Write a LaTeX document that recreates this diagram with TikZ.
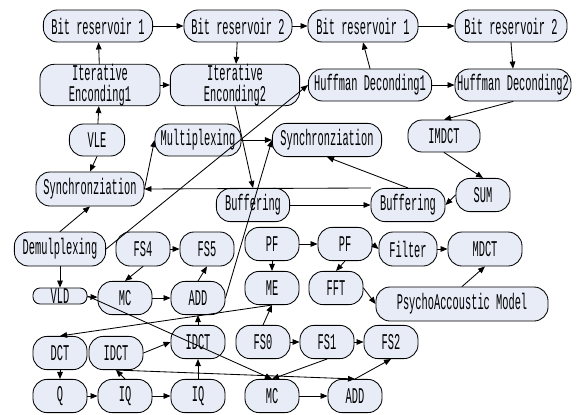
\documentclass[tikz,border=0pt]{standalone}
\usepackage{fontspec}
\setmainfont[FakeStretch=0.46]{Liberation Mono}
\usetikzlibrary{arrows.meta}
\definecolor{boxfill}{RGB}{231,236,247}
\tikzset{
  blk/.style={draw, fill=boxfill, rounded corners=10pt, inner sep=0pt,
    minimum width=1.35cm, minimum height=0.83cm, align=center,
    font=\fontsize{16}{14.5}\selectfont},
}

\begin{document}
\begin{tikzpicture}[x=0.025cm, y=-0.025cm, line cap=round, line join=round, line width=0.6pt, >={Triangle[length=5pt,width=4pt]}]

\useasboundingbox (0,0) rectangle (583,414);

% encoder / decoder top rows
\node[blk, minimum width=2.73cm, minimum height=0.8cm] (br1) at (98,26) {Bit reservoir 1};
\node[blk, minimum width=2.7cm, minimum height=0.8cm] (br2) at (238,26) {Bit reservoir 2};
\node[blk, minimum width=2.75cm, minimum height=0.8cm] (br3) at (363,26) {Bit reservoir 1};
\node[blk, minimum width=2.8cm, minimum height=0.8cm] (br4) at (511,26) {Bit reservoir 2};

\node[blk, minimum width=3.0cm] (ie1) at (100,85) {Iterative\\Enconding1};
\node[blk, minimum width=3.23cm] (ie2) at (235,85) {Iterative\\Enconding2};
\node[blk, minimum width=3.08cm, minimum height=0.8cm] (hd1) at (370,85) {Huffman Deconding1};
\node[blk, minimum width=2.9cm, minimum height=0.8cm] (hd2) at (513,85) {Huffman Deconding2};

\node[blk, minimum width=1.38cm, minimum height=0.8cm] (vle) at (97,140) {VLE};
\node[blk, minimum width=2.15cm, minimum height=0.8cm] (mux) at (198,140) {Multiplexing};
\node[blk, minimum width=2.73cm] (sync2) at (327,140) {Synchronziation};
\node[blk, minimum width=1.8cm, minimum height=0.8cm] (imdct) at (444,136) {IMDCT};

\node[blk, minimum width=2.7cm, minimum height=0.85cm] (sync1) at (90,189) {Synchronziation};
\node[blk, minimum width=1.83cm] (buf1) at (253,205) {Buffering};
\node[blk, minimum width=1.85cm] (buf2) at (408,205) {Buffering};
\node[blk] (sum) at (483,195) {SUM};

%---------------------------------------------------------------------------------------------------
% video part and psychoacoustic part
\node[blk, minimum width=2.28cm, minimum height=0.85cm] (demux) at (60,249) {Demulplexing};
\node[blk, minimum height=0.85cm] (fs4) at (143,249) {FS4};
\node[blk, minimum height=0.85cm] (fs5) at (207,249) {FS5};
\node[blk] (pf1) at (272,244) {PF};
\node[blk] (pf2) at (345,244) {PF};
\node[blk, minimum width=1.45cm, minimum height=0.85cm] (filt) at (408,249) {Filter};
\node[blk, minimum width=1.85cm, minimum height=0.85cm] (mdct) at (485,249) {MDCT};

\node[blk, minimum height=0.4cm, rounded corners=5pt] (vld) at (60,296) {VLD};
\node[blk] (mc1) at (125,298) {MC};
\node[blk] (add1) at (198,298) {ADD};
\node[blk] (me) at (272,288) {ME};
\node[blk] (fft) at (336,288) {FFT};
\node[blk, minimum width=4.3cm, minimum height=0.85cm] (psy) at (462,304) {PsychoAccoustic Model};

\node[blk] (dct) at (60,353) {DCT};
\node[blk] (idct1) at (116,353) {IDCT};
\node[blk] (idct2) at (198,342) {IDCT};
\node[blk] (fs0) at (263,342) {FS0};
\node[blk] (fs1) at (327,342) {FS1};
\node[blk] (fs2) at (391,342) {FS2};

\node[blk] (q) at (60,396) {Q};
\node[blk] (iq1) at (125,396) {IQ};
\node[blk] (iq2) at (198,396) {IQ};
\node[blk] (mc2) at (272,396) {MC};
\node[blk] (add2) at (355,396) {ADD};

%---------------------------------------------------------------------------------------------------
\draw[->] (br1) -- (br2);
\draw[->] (br2) -- (br3);
\draw[->] (br3) -- (br4);
\draw[->] (ie1) -- (br1);
\draw[->] (br2) -- (ie2);
\draw[->] (ie1) -- (ie2);
\draw[->] (hd1.north) -- (br3.south);
\draw[->] (br4.south) -- (hd2.north);
\draw[->] (hd1) -- (hd2);
\draw[->] (hd2.south) -- (imdct.north);

\draw[->] (vle) -- (ie1);
\draw[->] (vle.south) -- (sync1.north);
\draw[->] (demux.north) -- (sync1.south);
\draw[->] (sync1.east) -- (mux.west);
\draw[->] (mux) -- (sync2);
\draw[->] (ie2.south) -- (buf1.north);
\draw[->] (demux.east) -- (hd1.west);
\draw[->] (add1.east) -- (sync2.west);
\draw[->] (buf1) -- (buf2);
\draw[->] (imdct.south) -- (sum.north);
\draw[->] (sum.west) -- (buf2.east);
\draw[->] (buf2.north west) -- (sync1.east);
\draw[->] (buf2.north) -- (sync2.south);

\draw[->] (fs4) -- (fs5);
\draw[->] (fs4.south) -- (mc1.north);
\draw[->] (demux) -- (vld);
\draw[->] (vld) -- (mc1);
\draw[->] (mc1) -- (add1);
\draw[->] (add1.north) -- (fs5.south);
\draw[->] (pf1) -- (pf2);
\draw[->] (pf1) -- (me);
\draw[->] (pf2.south) -- (fft.north);
\draw[->] (pf2.east) -- (filt.west);
\draw[->] (filt) -- (mdct);
\draw[->] (fft.east) -- (psy.west);
\draw[->] (psy.north) -- (mdct.south);

\draw[->] (me.south) -- (dct.north);
\draw[->] (fs0.north) -- (me.south);
\draw[->] (fs0) -- (fs1);
\draw[->] (fs1) -- (fs2);
\draw[->] (idct1.east) -- (idct2.west);
\draw[->] (iq2) -- (idct2);
\draw[->] (idct2) -- (add1);
\draw[->] (dct) -- (q);
\draw[->] (q) -- (iq1);
\draw[->] (iq1) -- (iq2);
\draw[->] (iq1.north) -- (idct1.south);
\draw[->] (idct1.south) -- (add2.north);
\draw[->] (vld.east) -- (mc2.north);
\draw[->] (fs1.south) -- (mc2.north);
\draw[->] (mc2) -- (add2);
\draw[->] (add2.north) -- (fs2.south);

\end{tikzpicture}
\end{document}
